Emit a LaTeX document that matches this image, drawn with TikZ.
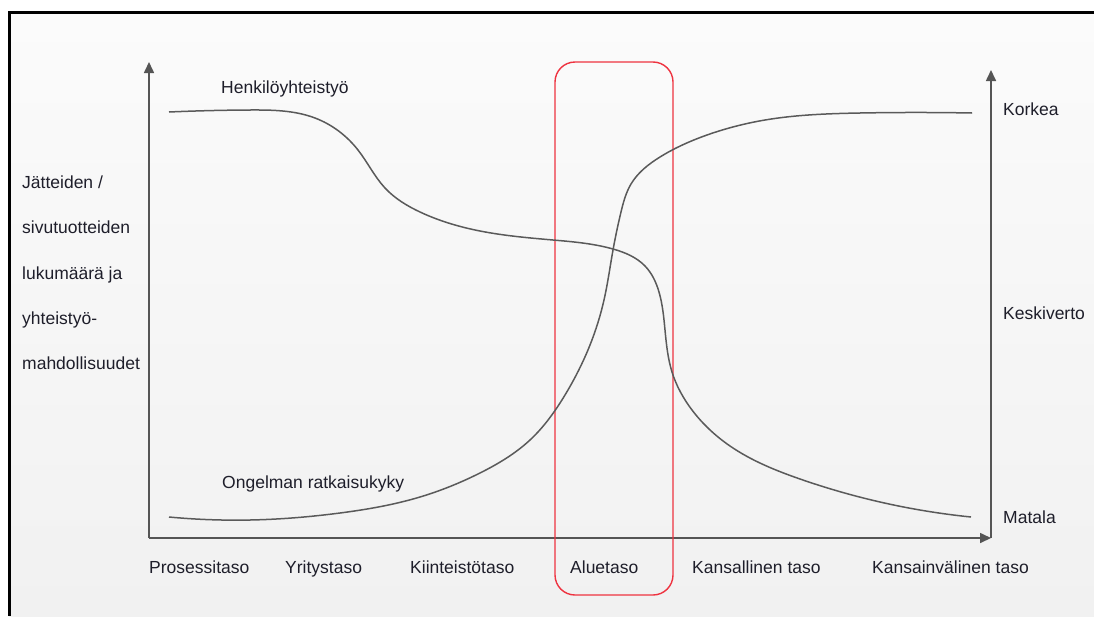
\documentclass[tikz,border=0pt]{standalone}
\usepackage{fontspec}
\setmainfont{Liberation Sans}
\usetikzlibrary{arrows.meta,hobby}
\definecolor{axisgray}{HTML}{555555}
\definecolor{curvegray}{HTML}{5A5A5A}
\definecolor{txt}{HTML}{1E1E2A}
\definecolor{boxred}{HTML}{EE3340}
\definecolor{bgtop}{HTML}{FBFBFB}
\definecolor{bgbot}{HTML}{F1F1F1}
\tikzset{
  axis/.style={draw=axisgray, line width=1.6pt, -{Triangle[length=11pt,width=10pt]}},
  curve/.style={draw=curvegray, line width=1.5pt, use Hobby shortcut},
  lbl/.style={anchor=base west, inner sep=0pt, text=txt, font=\fontsize{17.5pt}{21pt}\selectfont},
  region/.style={draw=boxred, line width=1.4pt, rounded corners=20pt}
}
\begin{document}
\begin{tikzpicture}[x=1pt,y=-1pt]
\useasboundingbox (0,0) rectangle (1094,616);
\fill[white] (0,0) rectangle (1094,616);
\shade[top color=bgtop, bottom color=bgbot] (9,12) rectangle (1094,616);
\draw[black, line width=3pt] (9,616) -- (9,12) -- (1094,12);

% axes
\coordinate (O) at (149,538);
\coordinate (ytop) at (149,62);
\coordinate (xend) at (991,538);
\coordinate (rtop) at (991,70);
\draw[axis] (O) -- (ytop);
\draw[axis] (O) -- (xend);
\draw[axis] (xend) -- (rtop);

% highlighted region
\draw[region] (555,62) rectangle (673,595);

% curves
\draw[curve] (169,112) .. (250,110) .. (315,118) .. (358,150) .. (385,188) .. (420,212) .. (480,231) .. (553,240) .. (613,249) .. (645,266) .. (659,292) .. (665,330) .. (672,372) .. (692,410) .. (730,446) .. (800,479) .. (880,502) .. (971,517);
\draw[curve] (169,517) .. (250,520) .. (340,513) .. (420,497) .. (480,473) .. (530,440) .. (565,395) .. (590,345) .. (604,300) .. (613,250) .. (621,212) .. (631,184) .. (660,157) .. (707,135) .. (765,120) .. (860,113) .. (972,113);

% curve labels
\node[lbl] (henk) at (221,93) {Henkilöyhteistyö};
\node[lbl] (ong) at (222,488) {Ongelman ratkaisukyky};

% left axis label
\node[lbl] (l1) at (22,188) {Jätteiden /};
\node[lbl] (l2) at (22,233.5) {sivutuotteiden};
\node[lbl] (l3) at (22,279) {lukumäärä ja};
\node[lbl] (l4) at (22,324) {yhteistyö-};
\node[lbl] (l5) at (22,369.5) {mahdollisuudet};

% right axis labels
\node[lbl] (korkea) at (1003,115) {Korkea};
\node[lbl] (keski) at (1003,319) {Keskiverto};
\node[lbl] (matala) at (1003,523) {Matala};

% bottom labels
\node[lbl] (b1) at (149,573) {Prosessitaso};
\node[lbl] (b2) at (285,573) {Yritystaso};
\node[lbl] (b3) at (410,573) {Kiinteistötaso};
\node[lbl] (b4) at (570,573) {Aluetaso};
\node[lbl] (b5) at (692,573) {Kansallinen taso};
\node[lbl] (b6) at (872,573) {Kansainvälinen taso};
\end{tikzpicture}
\end{document}
